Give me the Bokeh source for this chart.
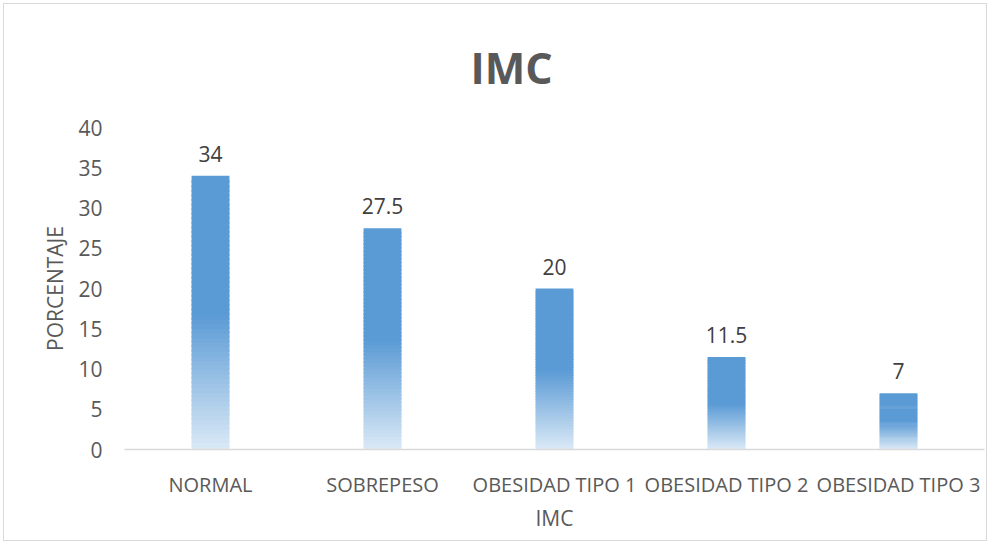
from bokeh.plotting import figure
from bokeh.models import ColumnDataSource, LabelSet, FixedTicker, Range1d, FactorRange
from bokeh.core.properties import value
from bokeh.embed import file_html
from bokeh.resources import INLINE

categories = ["NORMAL", "SOBREPESO", "OBESIDAD TIPO 1", "OBESIDAD TIPO 2", "OBESIDAD TIPO 3"]
values = [34, 27.5, 20, 11.5, 7]
value_labels = ["34", "27.5", "20", "11.5", "7"]
y_ticks = [0, 5, 10, 15, 20, 25, 30, 35, 40]

FONT = "Open Sans"
TOP = (91, 155, 213)
BOTTOM = (222, 235, 247)
N = 60

def mix(f):
    # f: 0 bottom -> 1 top ; solid above half height
    t = min(f / 0.5, 1.0)
    r = [round(BOTTOM[i] + (TOP[i] - BOTTOM[i]) * t) for i in range(3)]
    return "#%02x%02x%02x" % tuple(r)

xs, bots, tops, cols = [], [], [], []
for c, v in zip(categories, values):
    for k in range(N):
        xs.append(c)
        bots.append(max(0.0, v * (k - 0.6) / N))
        tops.append(v * (k + 1) / N)
        cols.append(mix((k + 0.5) / N))
slices = ColumnDataSource(dict(x=xs, bottom=bots, top=tops, color=cols))
lab_src = ColumnDataSource(dict(x=categories, y=values, text=value_labels))

p = figure(x_range=FactorRange(*categories, range_padding=0), y_range=Range1d(0, 40),
           frame_width=860, frame_height=322,
           min_border_left=120, min_border_right=2, min_border_top=100, min_border_bottom=91,
           output_backend="svg", toolbar_location=None, title="IMC")
p.styles = {"border": "1px solid #D9D9D9", "margin-left": "3px", "margin-top": "3px"}

p.title.align = "left"
p.title.offset = 346
p.title.standoff = 62
p.title.text_font = FONT
p.title.text_font_size = "43px"
p.title.text_font_style = "bold"
p.title.text_color = "#595959"

p.vbar(x="x", bottom="bottom", top="top", width=0.22, fill_color="color", line_color=None, source=slices)

p.add_layout(LabelSet(x="x", y="y", text="text", source=lab_src, y_offset=14,
                      text_align="center", text_baseline="bottom",
                      text_font=value(FONT), text_font_size=value("21px"), text_color="#404040"))

p.grid.visible = False
p.outline_line_color = None
p.background_fill_color = "white"
p.border_fill_color = "white"

p.yaxis.ticker = FixedTicker(ticks=y_ticks)
p.yaxis.axis_line_color = None
p.yaxis.major_tick_line_color = None
p.yaxis.minor_tick_line_color = None
p.yaxis.major_tick_out = 0
p.yaxis.major_label_standoff = 22
p.yaxis.axis_label = "PORCENTAJE"
p.yaxis.axis_label_standoff = 6

p.xaxis.axis_line_color = "#D9D9D9"
p.xaxis.axis_line_width = 1.5
p.xaxis.major_tick_line_color = None
p.xaxis.major_tick_out = 0
p.xaxis.major_label_standoff = 21
p.xaxis.axis_label = "IMC"
p.xaxis.axis_label_standoff = 3

for ax in (p.xaxis, p.yaxis):
    ax.major_label_text_font = FONT
    ax.major_label_text_font_size = "21px"
    ax.major_label_text_color = "#595959"
    ax.axis_label_text_font = FONT
    ax.axis_label_text_font_size = "21px"
    ax.axis_label_text_font_style = "normal"
    ax.axis_label_text_color = "#595959"
p.xaxis.major_label_text_font_size = "20px"

open("out.html", "w").write(file_html(p, INLINE))
